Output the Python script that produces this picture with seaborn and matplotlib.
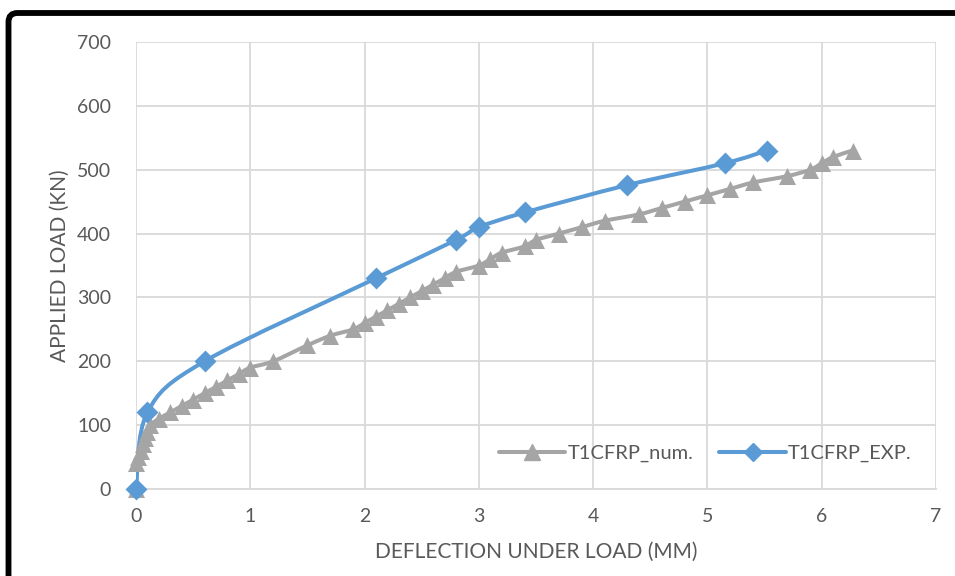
import numpy as np
import matplotlib
matplotlib.use("Agg")
import matplotlib.pyplot as plt
from matplotlib.path import Path
from matplotlib.patches import PathPatch, FancyBboxPatch
from matplotlib.lines import Line2D
import seaborn as sns
import pandas as pd

# Numerical model: deflection (mm) vs applied load (kN)
num_defl = [0.0, 0.0, 0.02, 0.04, 0.06, 0.08, 0.1, 0.12, 0.2, 0.3, 0.4, 0.5,
            0.6, 0.7, 0.8, 0.9, 1.0, 1.2, 1.5, 1.7, 1.9, 2.0, 2.1, 2.2, 2.3,
            2.4, 2.5, 2.6, 2.7, 2.8, 3.0, 3.1, 3.2, 3.4, 3.5, 3.7, 3.9, 4.1,
            4.4, 4.6, 4.8, 5.0, 5.2, 5.4, 5.7, 5.9, 6.0, 6.1, 6.27]
num_load = [0, 40, 50, 60, 70, 80, 90, 100, 110, 120, 130, 140,
            150, 160, 170, 180, 190, 200, 225, 240, 250, 260, 270, 280, 290,
            300, 310, 320, 330, 340, 350, 360, 370, 380, 390, 400, 410, 420,
            430, 440, 450, 460, 470, 480, 490, 500, 510, 520, 530]

# Experimental test
exp_defl = [0.0, 0.1, 0.6, 2.1, 2.8, 3.0, 3.4, 4.3, 5.15, 5.52]
exp_load = [0, 120, 200, 330, 390, 410, 433, 476, 510, 530]

num_label = "T1CFRP_num."
exp_label = "T1CFRP_EXP."
x_label = "DEFLECTION UNDER LOAD (MM)"
y_label = "APPLIED LOAD (KN)"

GRAY = "#A5A5A5"
BLUE = "#5B9BD5"
TEXT = "#595959"
GRID = "#D9D9D9"

sns.set_theme(style="white")
plt.rcParams["font.family"] = ["Lato", "DejaVu Sans"]


def smooth_path(xs, ys):
    """Catmull-Rom style cubic Bezier path through the given points."""
    p = np.column_stack([xs, ys]).astype(float)
    verts = [p[0]]
    codes = [Path.MOVETO]
    n = len(p)
    for i in range(n - 1):
        p0 = p[i - 1] if i > 0 else p[i]
        p1, p2 = p[i], p[i + 1]
        p3 = p[i + 2] if i + 2 < n else p[i + 1]
        c1 = p1 + (p2 - p0) / 6.0
        c2 = p2 - (p3 - p1) / 6.0
        verts += [c1, c2, p2]
        codes += [Path.CURVE4] * 3
    return Path(verts, codes)


fig = plt.figure(figsize=(9.55, 5.76), dpi=100)
ax = fig.add_axes([136 / 955, 87 / 576, 800 / 955, 447 / 576])

# Smoothed connecting lines
LW = 2.9
for xs, ys, col in [(num_defl, num_load, GRAY), (exp_defl, exp_load, BLUE)]:
    ax.add_patch(PathPatch(smooth_path(xs, ys), facecolor="none",
                           edgecolor=col, lw=LW, capstyle="round",
                           joinstyle="round", zorder=2))

num_df = pd.DataFrame({"defl": num_defl, "load": num_load})
exp_df = pd.DataFrame({"defl": exp_defl, "load": exp_load})
sns.scatterplot(data=num_df, x="defl", y="load", marker="^", s=150,
                color=GRAY, edgecolor=GRAY, linewidth=0, ax=ax, zorder=3,
                clip_on=False)
sns.scatterplot(data=exp_df, x="defl", y="load", marker="D", s=125,
                color=BLUE, edgecolor=BLUE, linewidth=0, ax=ax, zorder=4,
                clip_on=False)

ax.set_xlim(0, 7)
ax.set_ylim(0, 700)
ax.set_xticks(range(0, 8))
ax.set_yticks(range(0, 701, 100))
ax.grid(True, color=GRID, lw=1.3)
ax.set_axisbelow(True)
for side in ["top", "right", "left"]:
    ax.spines[side].set_visible(False)
ax.spines["bottom"].set_color(GRID)
ax.spines["bottom"].set_linewidth(1.3)
ax.tick_params(axis="both", length=0, labelsize=14, colors=TEXT)
ax.tick_params(axis="x", pad=14)
ax.tick_params(axis="y", pad=18)
ax.set_xlabel(x_label, fontsize=15, color=TEXT, labelpad=12)
ax.set_ylabel(y_label, fontsize=15, color=TEXT, labelpad=5)

handles = [
    Line2D([], [], color=GRAY, lw=LW, marker="^", ms=11, mec=GRAY),
    Line2D([], [], color=BLUE, lw=LW, marker="D", ms=9.5, mec=BLUE),
]
leg = ax.legend(handles, [num_label, exp_label], ncol=2, frameon=False,
                loc="lower right", bbox_to_anchor=(0.992, 0.02),
                fontsize=14.5, handlelength=3.3, columnspacing=1.3,
                handletextpad=0.1, labelcolor=TEXT)

# Outer black frame with rounded corner
frame = FancyBboxPatch((0.085, -0.3), 10.0, 5.93,
                       boxstyle="round,pad=0,rounding_size=0.09",
                       transform=fig.dpi_scale_trans, facecolor="none",
                       edgecolor="black", lw=4.2, clip_on=False)
fig.patches.append(frame)

fig.savefig("out.png", dpi=100, facecolor="white")
